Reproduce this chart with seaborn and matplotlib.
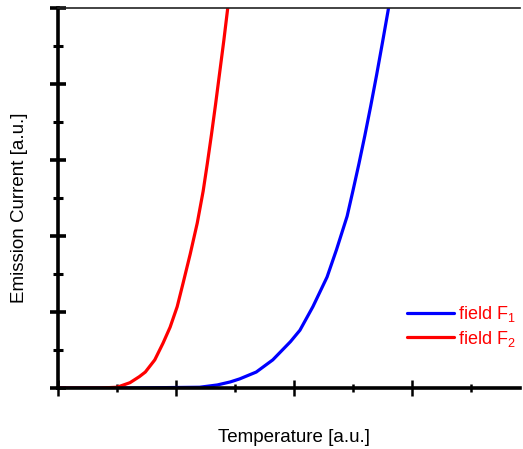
import numpy as np
import pandas as pd
import matplotlib
matplotlib.use("Agg")
import matplotlib.pyplot as plt
from matplotlib.ticker import MultipleLocator, NullFormatter
from matplotlib.lines import Line2D
import seaborn as sns

# data (arbitrary units)
temp_f1 = [0.0, 0.6, 1.20, 1.35, 1.46, 1.54, 1.68, 1.82, 1.97, 2.05, 2.16, 2.28, 2.36,
           2.45, 2.50, 2.55, 2.60, 2.65, 2.70, 2.75, 2.80, 2.807]
curr_f1 = [0.0, 0.0, 0.01, 0.04, 0.08, 0.12, 0.21, 0.37, 0.61, 0.76, 1.07, 1.46, 1.82,
           2.26, 2.60, 2.95, 3.32, 3.71, 4.12, 4.55, 4.99, 5.05]
temp_f2 = [0.0, 0.36, 0.50, 0.61, 0.69, 0.74, 0.82, 0.89, 0.95, 1.01, 1.06, 1.12, 1.18,
           1.23, 1.265, 1.30, 1.335, 1.37, 1.405, 1.44]
curr_f2 = [0.0, 0.0, 0.01, 0.07, 0.15, 0.21, 0.37, 0.59, 0.80, 1.07, 1.38, 1.76, 2.17,
           2.59, 2.95, 3.33, 3.73, 4.15, 4.57, 5.02]
labels = ["field F$_1$", "field F$_2$"]
colors = ["#0000ff", "#ff0000"]

df = pd.concat([
    pd.DataFrame({"T": temp_f1, "I": curr_f1, "series": labels[0]}),
    pd.DataFrame({"T": temp_f2, "I": curr_f2, "series": labels[1]}),
])

sns.set_style("white")
plt.rcParams["font.family"] = ["Liberation Sans", "DejaVu Sans"]
plt.rcParams["mathtext.fontset"] = "custom"
plt.rcParams["mathtext.rm"] = "Liberation Sans"
plt.rcParams["mathtext.it"] = "Liberation Sans"
plt.rcParams["lines.solid_joinstyle"] = "round"

fig = plt.figure(figsize=(5.23, 4.49), dpi=100)
ax = fig.add_axes([58/523, 1-388/449, 462/523, 380/449])

sns.lineplot(data=df, x="T", y="I", hue="series", palette=dict(zip(labels, colors)),
             linewidth=2.3, ax=ax, legend=False, sort=False, estimator=None)

ax.set_xlim(0, 3.915)
ax.set_ylim(0, 5)

ax.xaxis.set_major_locator(MultipleLocator(1))
ax.xaxis.set_minor_locator(MultipleLocator(0.5))
ax.yaxis.set_major_locator(MultipleLocator(1))
ax.yaxis.set_minor_locator(MultipleLocator(0.5))
ax.xaxis.set_major_formatter(NullFormatter())
ax.yaxis.set_major_formatter(NullFormatter())

ax.tick_params(axis="both", which="both", direction="inout", color="black")
ax.tick_params(axis="y", which="major", length=12, width=2.6, left=True)
ax.tick_params(axis="y", which="minor", length=7, width=2.2, left=True)
ax.tick_params(axis="x", which="major", length=12, width=1.8, bottom=True)
ax.tick_params(axis="x", which="minor", length=6, width=1.8, bottom=True)

for s in ["left", "bottom"]:
    ax.spines[s].set_linewidth(2.6)
    ax.spines[s].set_color("black")
ax.spines["right"].set_visible(False)
ax.spines["top"].set_visible(True)
ax.spines["top"].set_linewidth(1.2)
ax.spines["top"].set_color("#222222")

ax.set_xlabel("Temperature [a.u.]", fontsize=13.5, color="black")
ax.set_ylabel("Emission Current [a.u.]", fontsize=13.5, color="black")
ax.xaxis.set_label_coords((294-58)/462, (388-438)/380)
ax.xaxis.label.set_va("center")
ax.yaxis.set_label_coords((20-58)/462, (388-208)/380)
ax.yaxis.label.set_va("center")

handles = [Line2D([0], [0], color=c, lw=2.3) for c in colors]
leg = ax.legend(handles, labels, loc="lower right", bbox_to_anchor=(1.01, 0.08),
                frameon=False, fontsize=13, handlelength=2.6, handletextpad=0.2,
                labelspacing=0.25, borderpad=0)
for t in leg.get_texts():
    t.set_color("#ff0000")

fig.savefig("out.png", dpi=100)
